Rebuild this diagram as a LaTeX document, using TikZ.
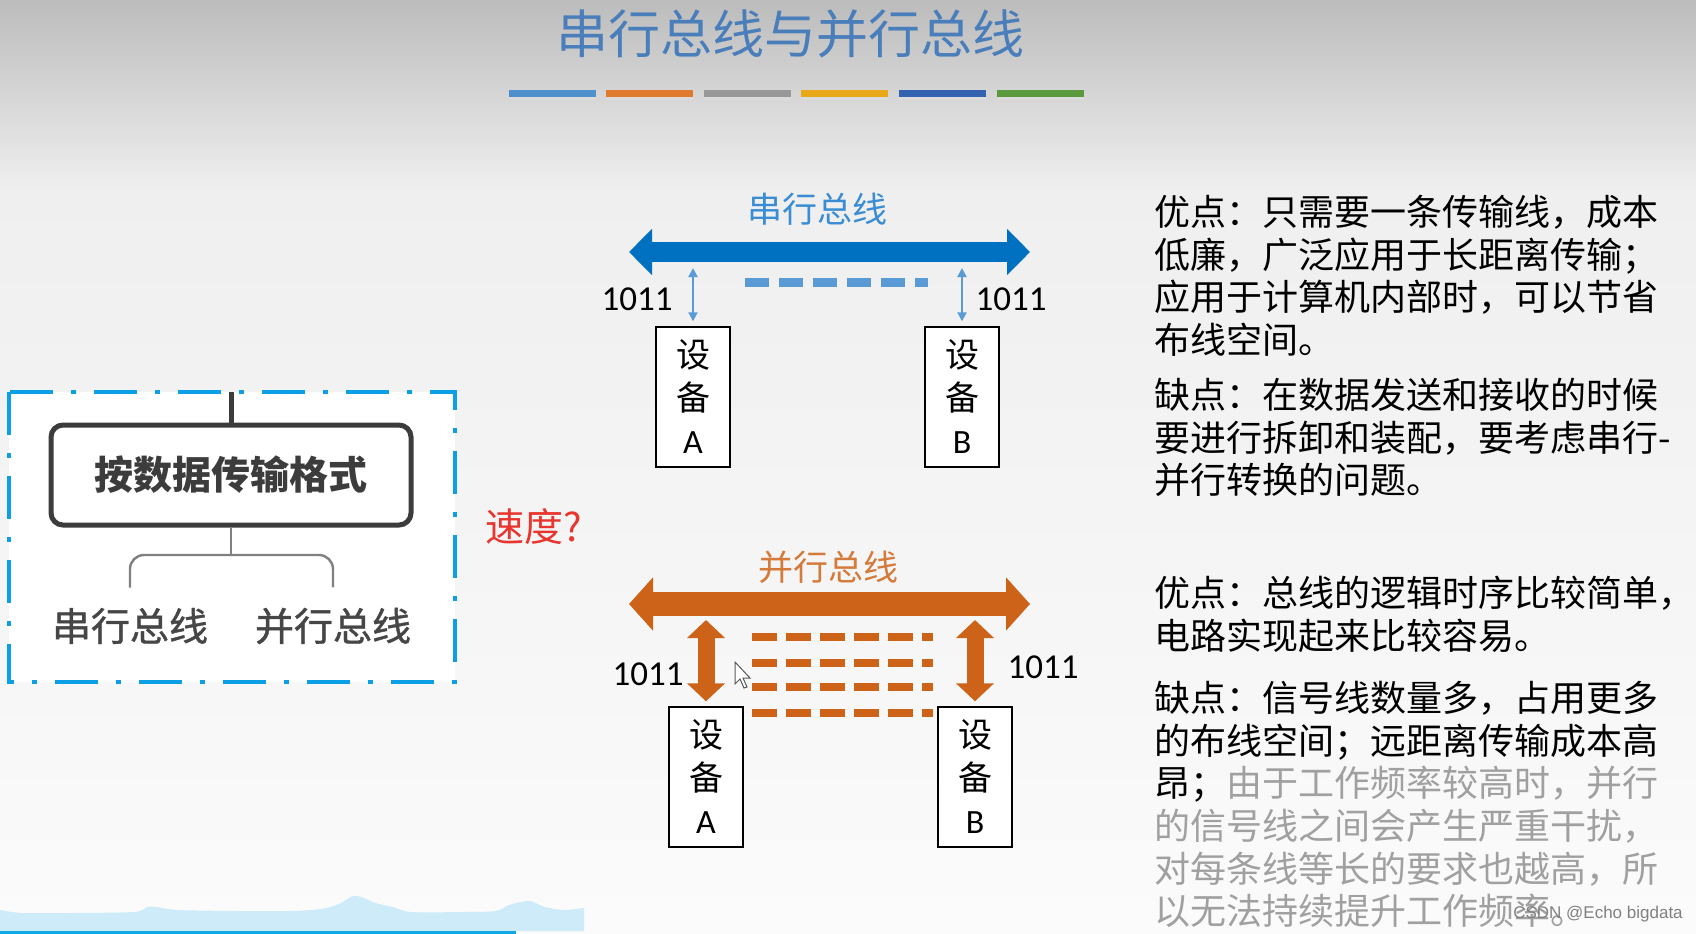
\documentclass[tikz,border=0pt]{standalone}
\usepackage{fontspec}
\setmainfont{Noto Sans CJK SC}
\newfontfamily\leaffont[FakeBold=1]{Noto Sans CJK SC}
\newfontfamily\numfont{Carlito}
\newfontfamily\markfont{Liberation Sans}
\usetikzlibrary{arrows.meta,positioning}
\definecolor{bgtop}{HTML}{BCBCBC}
\definecolor{bgmid}{HTML}{EFEFEF}
\definecolor{bgbot}{HTML}{FBFBFB}
\definecolor{titleblue}{HTML}{4A7EBA}
\definecolor{barA}{HTML}{4F8FCB}
\definecolor{barB}{HTML}{E07A2E}
\definecolor{barC}{HTML}{989898}
\definecolor{barD}{HTML}{E8A817}
\definecolor{barE}{HTML}{3262B0}
\definecolor{barF}{HTML}{5B9A3C}
\definecolor{busblue}{HTML}{0070C0}
\definecolor{wireblue}{HTML}{5B9BD5}
\definecolor{labelblue}{HTML}{3A8DD4}
\definecolor{busorange}{HTML}{CC6318}
\definecolor{labelorange}{HTML}{D47A3A}
\definecolor{boxblue}{HTML}{0B9FE5}
\definecolor{treegray}{HTML}{3C3C3C}
\definecolor{twiggray}{HTML}{808080}
\definecolor{speedred}{HTML}{E8352E}
\definecolor{fadegray}{HTML}{A0A0A0}
\definecolor{wave}{HTML}{CDEBF8}
\definecolor{progress}{HTML}{11A8E8}

\begin{document}
\begin{tikzpicture}[x=0.5pt,y=-0.5pt,
    devbox/.style={draw,line width=0.7pt,fill=white,minimum width=37pt,minimum height=70pt,
      inner sep=0pt,align=center,font=\fontsize{17}{21.5}\selectfont},
    buslabel/.style={font=\fontsize{17.5}{18}\selectfont},
    leaf/.style={inner sep=0pt,text=treegray!95,font=\leaffont\fontsize{19.5}{20}\selectfont},
    num/.style={font=\numfont\fontsize{17.5}{18}\selectfont},
    sbus/.style={busblue,line width=10pt,{Triangle[width=22.5pt,length=11.5pt]}-{Triangle[width=22.5pt,length=11.5pt]}},
    pbus/.style={busorange,line width=12pt,{Triangle[width=26pt,length=12pt]}-{Triangle[width=26pt,length=12pt]}},
    sarr/.style={wireblue,line width=1pt,{Triangle[width=4.5pt,length=4.5pt]}-{Triangle[width=4.5pt,length=4.5pt]}},
    parr/.style={busorange,line width=8.5pt,{Triangle[width=18.5pt,length=9pt]}-{Triangle[width=18.5pt,length=9pt]}},
    sdash/.style={wireblue,line width=4.5pt,dash pattern=on 12pt off 5pt},
    pdash/.style={busorange,line width=4pt,dash pattern=on 12.5pt off 4.5pt},
    note/.style={anchor=north west,inner sep=0pt,align=left,font=\fontsize{18}{21.3}\selectfont}]
  \useasboundingbox (0,0) rectangle (1696,933);
  \shade[top color=bgtop,bottom color=bgmid] (0,0) rectangle (1696,190);
  \shade[top color=bgmid,bottom color=bgbot] (0,190) rectangle (1696,933);

  \node[text=titleblue,font=\fontsize{26}{26}\selectfont] (TITLE) at (790,34) {串行总线与并行总线};
  \foreach \x/\c in {509/barA,606/barB,704/barC,801/barD,899/barE,997/barF}{
    \fill[black!14] (\x,92) rectangle ++(87,8);
    \fill[\c] (\x,90) rectangle ++(87,7);
  }

  \begin{scope}
    \draw[boxblue,fill=white,line width=2pt,dash pattern=on 21.5pt off 9pt on 2.5pt off 9pt]
      (9,392) rectangle (455,682);
    \node[draw=treegray,line width=2.5pt,fill=white,rounded corners=6pt,minimum width=180pt,
      minimum height=50pt,text=treegray,font=\fontsize{19.5}{20}\selectfont\bfseries] (FMT) at (231,475) {按数据传输格式};
    \coordinate (TOP) at (231,392);
    \coordinate (SPLIT) at (231,555);
    \node[leaf] (LSER) at (130,626) {串行总线};
    \node[leaf] (LPAR) at (333,626) {并行总线};
    \draw[treegray,line width=2.5pt] (TOP) -- (FMT.north);
    \draw[twiggray,line width=1.2pt] (FMT.south) -- (SPLIT);
    \draw[twiggray,line width=1.2pt,rounded corners=7pt] ([yshift=10pt]LSER.north) |- (SPLIT) -| ([yshift=10pt]LPAR.north);
  \end{scope}
  \node[text=speedred,font=\fontsize{19.5}{20}\selectfont] (SPEED) at (534,527) {速度?};

  \begin{scope}
    \coordinate (SL) at (629,252);
    \coordinate (SR) at (1030,252);
    \draw[sbus] (SL) -- (SR);
    \node[buslabel,text=labelblue] (SLAB) at (817,209) {串行总线};
    \node[devbox] (SA) at (693,397) {设\\备\\{\numfont A}};
    \node[devbox] (SB) at (962,397) {设\\备\\{\numfont B}};
    \draw[sarr] ([yshift=2.5pt]SA.north) -- ([yshift=-8pt]SA.north |- SL);
    \draw[sarr] ([yshift=2.5pt]SB.north) -- ([yshift=-8pt]SB.north |- SR);
    \draw[sdash] (745,282) -- (928,282);
    \node[num] (SNA) at (637,299) {1011};
    \node[num] (SNB) at (1011,299) {1011};
  \end{scope}

  \begin{scope}
    \coordinate (PL) at (629,604);
    \coordinate (PR) at (1030,604);
    \draw[pbus] (PL) -- (PR);
    \node[buslabel,text=labelorange] (PLAB) at (828,567) {并行总线};
    \node[devbox] (PA) at (706,777) {设\\备\\{\numfont A}};
    \node[devbox] (PB) at (975,777) {设\\备\\{\numfont B}};
    \draw[parr] ([yshift=2.5pt]PA.north) -- ([yshift=-8pt]PA.north |- PL);
    \draw[parr] ([yshift=2.5pt]PB.north) -- ([yshift=-8pt]PB.north |- PR);
    \foreach \y in {637,663,687,713}
      \draw[pdash] (752,\y) -- (933,\y);
    \node[num] (PNA) at (648,674) {1011};
    \node[num] (PNB) at (1043,667) {1011};
    \draw[gray!70!black,fill=white,line width=0.5pt] (735,662) -- (735,684) -- (740,679) -- (744,688)
      -- (747,687) -- (743,678) -- (750,678) -- cycle;
  \end{scope}

  \node[note] (SPRO) at (1154,195) {优点：只需要一条传输线，成本\\低廉，广泛应用于长距离传输；\\应用于计算机内部时，可以节省\\布线空间。};
  \node[note] (SCON) at (1154,378) {缺点：在数据发送和接收的时候\\要进行拆卸和装配，要考虑串行-\\并行转换的问题。};
  \node[note] (PPRO) at (1154,576) {优点：总线的逻辑时序比较简单，\\电路实现起来比较容易。};
  \node[note] (PCON) at (1154,681) {缺点：信号线数量多，占用更多\\的布线空间；远距离传输成本高\\昂；\textcolor{fadegray}{由于工作频率较高时，并行}\\\textcolor{fadegray}{的信号线之间会产生严重干扰，}\\\textcolor{fadegray}{对每条线等长的要求也越高，所}\\\textcolor{fadegray}{以无法持续提升工作频率。}};

  \fill[wave] (0,931) -- plot[smooth] coordinates {(0,910) (22,913) (67,913) (134,912) (147,907)
    (156,907) (179,910) (237,911) (290,911) (321,909) (339,904) (353,896) (364,898) (375,903)
    (393,907) (411,912) (464,912) (496,911) (509,905) (529,901) (545,907) (563,910) (584,908)}
    -- (584,931) -- cycle;
  \draw[progress,line width=1.5pt] (0,932) -- (516,932);
  \node[text=gray,font=\markfont\fontsize{8.5}{9}\selectfont] (MARK) at (1598,914) {CSDN @Echo bigdata};
\end{tikzpicture}
\end{document}
